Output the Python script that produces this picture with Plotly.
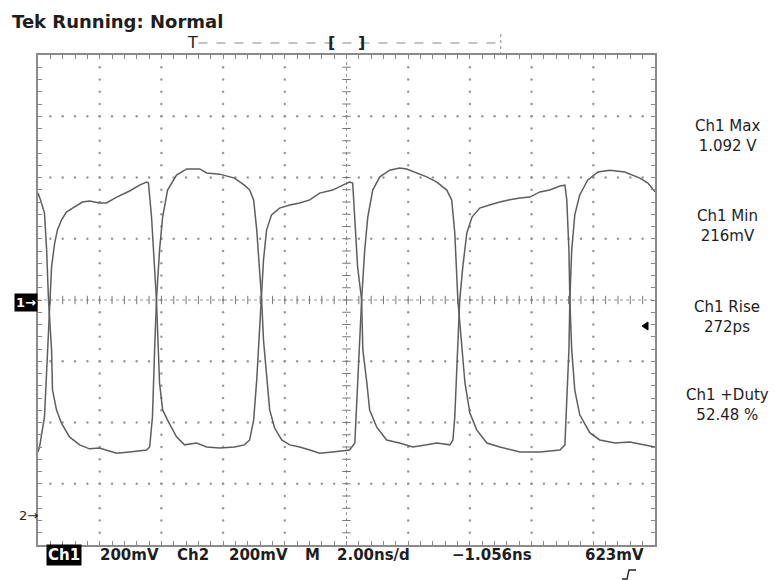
import plotly.graph_objects as go

# Channel 1 trace (time in ns from left graticule edge, volts on Ch1 scale)
ch1_t = [0.00, 0.05, 0.21, 0.31, 0.37, 0.44, 0.54, 0.63, 0.76, 0.92, 1.12, 1.44, 1.67, 1.99, 2.22,
         2.55, 2.97, 3.29, 3.52, 3.58, 3.68, 3.84, 3.94, 4.04, 4.20, 4.49, 4.75, 5.14, 5.47, 5.89,
         6.37, 6.69, 6.86, 6.99, 7.09, 7.25, 7.31, 7.41, 7.57, 7.83, 8.16, 8.48, 8.81, 9.13, 9.55,
         9.88, 10.10, 10.20, 10.27, 10.36, 10.49, 10.53, 10.66, 10.75, 10.98, 11.30, 11.72, 12.15,
         12.60, 12.93, 13.35, 13.45, 13.51, 13.61, 13.67, 13.77, 13.90, 14.07, 14.32, 14.64, 14.97,
         15.29, 15.62, 15.94, 16.27, 16.59, 16.92, 17.08, 17.14, 17.21, 17.24, 17.30, 17.40, 17.56,
         17.89, 18.21, 18.70, 19.18, 19.67, 20.00]
ch1_v = [0.212, 0.228, 0.326, 0.545, 0.708, 0.816, 0.894, 0.937, 0.969, 0.995, 1.008, 1.028, 1.031,
         1.025, 1.025, 1.044, 1.064, 1.083, 1.093, 1.090, 0.979, 0.708, 0.437, 0.349, 0.316, 0.261,
         0.235, 0.241, 0.228, 0.225, 0.228, 0.235, 0.251, 0.316, 0.447, 0.708, 0.839, 0.937, 0.986,
         1.008, 1.018, 1.025, 1.035, 1.057, 1.067, 1.083, 1.093, 1.090, 0.979, 0.816, 0.708, 0.545,
         0.437, 0.349, 0.293, 0.251, 0.241, 0.228, 0.235, 0.241, 0.235, 0.251, 0.326, 0.545, 0.708,
         0.816, 0.927, 0.979, 1.008, 1.018, 1.028, 1.035, 1.041, 1.044, 1.061, 1.067, 1.080, 1.083,
         1.035, 0.871, 0.708, 0.545, 0.414, 0.333, 0.274, 0.251, 0.241, 0.244, 0.235, 0.228]

# Channel 2 trace (complementary signal, drawn on the same screen scale)
ch2_t = [0.00, 0.08, 0.21, 0.28, 0.34, 0.44, 0.47, 0.60, 0.76, 1.02, 1.35, 1.67, 1.99, 2.22, 2.55,
         2.97, 3.52, 3.62, 3.71, 3.78, 3.84, 3.94, 4.04, 4.20, 4.49, 4.82, 5.24, 5.47, 5.89, 6.37,
         6.69, 6.86, 6.99, 7.09, 7.18, 7.25, 7.31, 7.41, 7.51, 7.67, 7.90, 8.16, 8.48, 8.81, 9.13,
         9.55, 10.10, 10.27, 10.36, 10.49, 10.59, 10.69, 10.85, 11.08, 11.40, 11.72, 11.95, 12.28,
         12.60, 12.93, 13.25, 13.41, 13.51, 13.61, 13.74, 13.84, 14.00, 14.22, 14.55, 14.97, 15.62,
         16.27, 16.92, 17.08, 17.14, 17.21, 17.24, 17.30, 17.40, 17.56, 17.82, 18.15, 18.53, 19.02,
         19.51, 19.77, 20.00]
ch2_v = [1.057, 1.035, 0.992, 0.871, 0.708, 0.545, 0.414, 0.349, 0.306, 0.261, 0.235, 0.222, 0.225,
         0.218, 0.208, 0.212, 0.218, 0.228, 0.326, 0.545, 0.708, 0.871, 0.979, 1.067, 1.116, 1.136,
         1.136, 1.123, 1.119, 1.106, 1.083, 1.067, 1.035, 0.937, 0.806, 0.708, 0.577, 0.447, 0.349,
         0.290, 0.251, 0.235, 0.228, 0.218, 0.208, 0.212, 0.218, 0.241, 0.437, 0.708, 0.871, 0.979,
         1.067, 1.110, 1.132, 1.139, 1.136, 1.123, 1.110, 1.093, 1.067, 1.035, 0.927, 0.708, 0.545,
         0.437, 0.339, 0.284, 0.241, 0.228, 0.212, 0.212, 0.218, 0.235, 0.381, 0.545, 0.708, 0.871,
         0.986, 1.051, 1.100, 1.126, 1.132, 1.126, 1.106, 1.090, 1.061]

# Scope settings
ns_per_div = 2.0
volts_per_div = 0.2
n_hdiv = 10
n_vdiv = 8
screen_center_v = 0.708
trigger_pos_ns = 5.0
record_window_ns = [9.5, 10.5]
record_end_ns = 15.0

# Texts
title_text = "Tek Running: Normal"
meas_names = ["Ch1 Max", "Ch1 Min", "Ch1 Rise", "Ch1 +Duty"]
meas_values = ["1.092 V", "216mV", "272ps", "52.48 %"]
status_labels = ["200mV", "Ch2", "200mV", "M", "2.00ns/d", "\u22121.056ns", "623mV"]

# ---------------- figure ----------------
OFF = 8                      # the page body margin offsets the figure by 8 px
W, H = 780 - OFF, 580 - OFF
ML, MT = 38 - OFF, 55 - OFF
PW, PH = 617, 490
MR, MB = W - ML - PW, H - MT - PH


def PX(x):
    """screen pixel x -> paper fraction"""
    return (x - OFF - ML) / PW


def PY(y):
    """screen pixel y -> paper fraction"""
    return (H - MB - (y - OFF)) / PH


x_max = n_hdiv * ns_per_div
y_min = screen_center_v - n_vdiv / 2 * volts_per_div
y_max = screen_center_v + n_vdiv / 2 * volts_per_div
minor_t = ns_per_div / 5
minor_v = volts_per_div / 5
center_t = x_max / 2

GRID = "#979797"
fig = go.Figure()

# dotted graticule lines
gx, gy = [], []
for i in range(1, n_hdiv):
    t = i * ns_per_div
    if abs(t - center_t) < 1e-9:
        continue
    for j in range(1, n_vdiv * 5):
        gx.append(t)
        gy.append(y_min + j * minor_v)
for k in range(1, n_vdiv):
    v = y_min + k * volts_per_div
    if abs(v - screen_center_v) < 1e-9:
        continue
    for j in range(1, n_hdiv * 5):
        gx.append(j * minor_t)
        gy.append(v)
fig.add_trace(go.Scatter(x=gx, y=gy, mode="markers", hoverinfo="skip",
                         marker=dict(size=2.4, color=GRID, line=dict(width=0))))

# centre cross-hair with minor ticks
fig.add_trace(go.Scatter(x=[0, x_max], y=[screen_center_v, screen_center_v], mode="lines",
                         hoverinfo="skip", line=dict(color=GRID, width=1, dash="dot")))
fig.add_trace(go.Scatter(x=[center_t, center_t], y=[y_min, y_max], mode="lines",
                         hoverinfo="skip", line=dict(color=GRID, width=1, dash="dot")))
fig.add_trace(go.Scatter(x=[j * minor_t for j in range(1, n_hdiv * 5)],
                         y=[screen_center_v] * (n_hdiv * 5 - 1), mode="markers", hoverinfo="skip",
                         marker=dict(symbol="line-ns", size=6, line=dict(color="#777", width=1))))
fig.add_trace(go.Scatter(x=[center_t] * (n_vdiv * 5 - 1),
                         y=[y_min + j * minor_v for j in range(1, n_vdiv * 5)], mode="markers",
                         hoverinfo="skip",
                         marker=dict(symbol="line-ew", size=6, line=dict(color="#777", width=1))))

# waveforms
TRACE = "#5e5e5e"
fig.add_trace(go.Scatter(x=ch1_t, y=ch1_v, mode="lines", name="Ch1",
                         line=dict(color=TRACE, width=1.5)))
fig.add_trace(go.Scatter(x=ch2_t, y=ch2_v, mode="lines", name="Ch2",
                         line=dict(color=TRACE, width=1.5)))

FONT = "DejaVu Sans"
TXT = "#1e1e1e"
ann = []
ann.append(dict(x=PX(10), y=PY(21), xref="paper", yref="paper", xanchor="left", yanchor="middle",
                text="<b>" + title_text + "</b>", showarrow=False,
                font=dict(family=FONT, size=18, color=TXT)))

# measurement readouts
block_y = [136, 226, 317, 405]
for nm, val, yy in zip(meas_names, meas_values, block_y):
    ann.append(dict(x=PX(727), y=PY(yy), xref="paper", yref="paper", xanchor="center",
                    yanchor="middle", text=nm + "<br>" + val, showarrow=False,
                    font=dict(family=FONT, size=15, color=TXT)))

# bottom status line
ann.append(dict(x=PX(63.5), y=PY(555), xref="paper", yref="paper", xanchor="center",
                yanchor="middle", text="<b>Ch1</b>", showarrow=False, bgcolor="#000000",
                borderpad=1, font=dict(family=FONT, size=15, color="#ffffff")))
status_x = [129.5, 192.5, 258.5, 312.5, 374, 492, 614.5]
for lab, xx in zip(status_labels, status_x):
    ann.append(dict(x=PX(xx), y=PY(555), xref="paper", yref="paper", xanchor="center",
                    yanchor="middle", text="<b>" + lab + "</b>", showarrow=False,
                    font=dict(family=FONT, size=15, color=TXT)))

# channel ground markers
ann.append(dict(x=PX(26), y=PY(302), xref="paper", yref="paper", xanchor="center",
                yanchor="middle", text="<b>1\u2192</b>", showarrow=False, bgcolor="#000000",
                borderpad=1, font=dict(family=FONT, size=13, color="#ffffff")))
ann.append(dict(x=PX(28), y=PY(515), xref="paper", yref="paper", xanchor="center",
                yanchor="middle", text="2\u2192", showarrow=False,
                font=dict(family=FONT, size=13, color=TXT)))

# trigger position marker and record bracket
ann.append(dict(x=trigger_pos_ns, y=PY(43), xref="x", yref="paper", xanchor="center",
                yanchor="middle", text="T", showarrow=False,
                font=dict(family=FONT, size=16, color="#222")))
ann.append(dict(x=record_window_ns[0], y=PY(43), xref="x", yref="paper", xanchor="center",
                yanchor="middle", text="<b>[</b>", showarrow=False,
                font=dict(family=FONT, size=16, color="#222")))
ann.append(dict(x=record_window_ns[1], y=PY(43), xref="x", yref="paper", xanchor="center",
                yanchor="middle", text="<b>]</b>", showarrow=False,
                font=dict(family=FONT, size=16, color="#222")))

shapes = []
shapes.append(dict(type="line", xref="x", yref="paper", x0=trigger_pos_ns + 0.2,
                   x1=record_end_ns, y0=PY(43), y1=PY(43),
                   line=dict(color="#888", width=1, dash="dash")))
shapes.append(dict(type="line", xref="x", yref="paper", x0=record_end_ns, x1=record_end_ns,
                   y0=PY(34), y1=PY(54), line=dict(color="#888", width=1, dash="dot")))

# trigger level arrow on the right edge
shapes.append(dict(type="path", xref="paper", yref="paper",
                   path="M %f,%f L %f,%f L %f,%f Z" % (PX(642), PY(326), PX(648), PY(322),
                                                      PX(648), PY(330)),
                   fillcolor="#000", line=dict(color="#000", width=1)))
# rising-edge trigger slope symbol
shapes.append(dict(type="path", xref="paper", yref="paper",
                   path="M %f,%f L %f,%f L %f,%f L %f,%f" % (PX(622), PY(579), PX(627), PY(579),
                                                            PX(629), PY(570), PX(636), PY(570)),
                   line=dict(color="#222", width=1.3)))

fig.update_layout(
    width=W, height=H, margin=dict(l=ML, r=MR, t=MT, b=MB),
    paper_bgcolor="#ffffff", plot_bgcolor="#ffffff", showlegend=False,
    annotations=ann, shapes=shapes,
)
axis_common = dict(showgrid=False, zeroline=False, showticklabels=False, showline=True,
                   linecolor="#8a8a8a", linewidth=2, mirror="ticks", ticks="inside",
                   ticklen=4, tickcolor="#8a8a8a", tickwidth=1, fixedrange=True)
fig.update_xaxes(range=[0, x_max], tick0=0, dtick=minor_t, **axis_common)
fig.update_yaxes(range=[y_min, y_max], tick0=y_min, dtick=minor_v, **axis_common)

fig.write_html("out.html")
